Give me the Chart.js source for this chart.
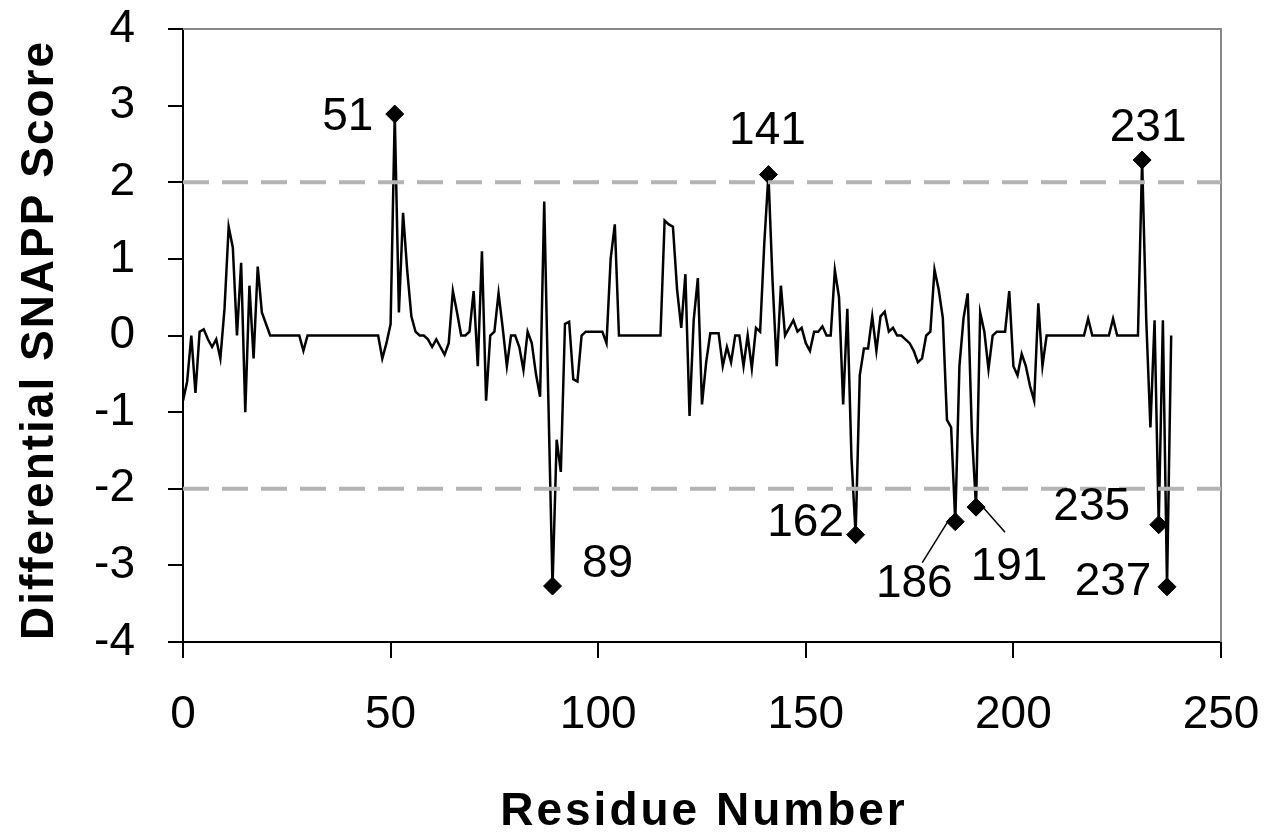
<!DOCTYPE html>
<html>
<head>
<meta charset="utf-8">
<script src="https://cdn.jsdelivr.net/npm/chart.js@4.4.1/dist/chart.umd.min.js"></script>
<style>
html, body { margin: 0; padding: 0; background: #fff; }
#wrap { width: 1284px; height: 837px; }
</style>
</head>
<body>
<div id="wrap"><canvas id="chart"></canvas></div>
<script>
// residue number of the first score
const firstResidue = 0;

// differential SNAPP score per residue (0..238)
const scores = [
    -0.85, -0.6, 0.0, -0.75, 0.05, 0.08, -0.05, -0.15, -0.05, -0.3,
    0.35, 1.42, 1.15, 0.0, 0.95, -1.0, 0.65, -0.3, 0.9, 0.3,
    0.15, 0, 0, 0, 0, 0, 0, 0, 0, -0.2,
    0, 0, 0, 0, 0, 0, 0, 0, 0, 0,
    0, 0, 0, 0, 0, 0, 0, 0, -0.3, -0.1,
    0.15, 2.89, 0.3, 1.6, 0.85, 0.25, 0.05, 0, 0, -0.05,
    -0.15, -0.05, -0.15, -0.25, -0.1, 0.58, 0.3, 0, 0, 0.05,
    0.58, -0.4, 1.1, -0.85, 0, 0.05, 0.55, 0.1, -0.4, 0,
    0, -0.15, -0.45, 0.05, -0.1, -0.5, -0.8, 1.75, -0.85, -3.27,
    -1.36, -1.78, 0.15, 0.18, -0.57, -0.6, 0, 0.05, 0.05, 0.05,
    0.05, 0.05, -0.1, 1.0, 1.45, 0, 0, 0, 0, 0,
    0, 0, 0, 0, 0, 0, 1.5, 1.45, 1.42, 0.6,
    0.1, 0.8, -1.05, 0.2, 0.75, -0.9, -0.35, 0.03, 0.03, 0.03,
    -0.4, -0.15, -0.35, 0, 0, -0.4, 0, -0.43, 0.1, 0.05,
    1.2, 2.1, 0.7, -0.4, 0.65, 0, 0.1, 0.2, 0.05, 0.1,
    -0.1, -0.2, 0.05, 0.05, 0.12, 0, 0, 0.85, 0.5, -0.9,
    0.35, -1.6, -2.6, -0.52, -0.17, -0.17, 0.25, -0.2, 0.25, 0.31,
    0.05, 0.1, 0, 0, -0.05, -0.1, -0.2, -0.35, -0.3, 0,
    0.05, 0.86, 0.6, 0.23, -1.1, -1.2, -2.43, -0.4, 0.23, 0.55,
    -1.27, -2.24, 0.3, 0.05, -0.44, 0, 0.05, 0.05, 0.05, 0.58,
    -0.4, -0.52, -0.24, -0.4, -0.66, -0.85, 0.42, -0.4, 0, 0,
    0, 0, 0, 0, 0, 0, 0, 0, 0.22, 0,
    0, 0, 0, 0, 0.22, 0, 0, 0, 0, 0,
    0, 2.29, 0.2, -1.2, 0.2, -2.47, 0.2, -3.28, 0
];

// residues flagged with a diamond and a number
const markedResidues = [51, 89, 141, 162, 186, 191, 231, 235, 237];

// significance thresholds (dashed lines)
const thresholds = [2, -2];

// axis ranges and tick steps
const xRange = [0, 250];
const xStep = 50;
const yRange = [-4, 4];
const yStep = 1;

// where each number sits relative to its diamond (px), and leader lines
const labelOffsets = {
    51: [-47, -1], 89: [55, -26], 141: [-1, -48], 162: [-50, -16],
    186: [-41, 58], 191: [33, 56], 231: [6, -36], 235: [-67, -22], 237: [-54, -9]
};
const leaderLines = {
    186: [[-5, -4], [-33, 41]],
    191: [[7, 0], [29, 25]]
};

const tickFont = { family: '"Liberation Sans", Arial, sans-serif', size: 46 };
const valueAt = r => scores[r - firstResidue];

const linePoints = scores.map((v, i) => ({ x: firstResidue + i, y: v }));
const markerPoints = markedResidues.map(r => ({ x: r, y: valueAt(r) }));

const thresholdSets = thresholds.map(t => ({
    data: [{ x: xRange[0], y: t }, { x: xRange[1], y: t }],
    borderColor: '#b4b4b4',
    borderWidth: 4,
    borderDash: [26, 13],
    pointRadius: 0,
    tension: 0
}));

// gray frame on the top and right of the plot
const frame = {
    id: 'frame',
    beforeDatasetsDraw(chart) {
        const { ctx, chartArea: a } = chart;
        ctx.save();
        ctx.strokeStyle = '#888';
        ctx.lineWidth = 2;
        ctx.beginPath();
        ctx.moveTo(a.left, a.top);
        ctx.lineTo(a.right, a.top);
        ctx.lineTo(a.right, a.bottom);
        ctx.stroke();
        ctx.restore();
    }
};

// residue numbers beside the diamonds
const pointLabels = {
    id: 'pointLabels',
    afterDatasetsDraw(chart) {
        const { ctx, scales } = chart;
        ctx.save();
        ctx.fillStyle = '#000';
        ctx.strokeStyle = '#000';
        ctx.lineWidth = 1.5;
        ctx.font = '46px "Liberation Sans", Arial, sans-serif';
        ctx.textAlign = 'center';
        ctx.textBaseline = 'alphabetic';
        markedResidues.forEach(r => {
            const px = scales.x.getPixelForValue(r);
            const py = scales.y.getPixelForValue(valueAt(r));
            const [dx, dy] = labelOffsets[r];
            ctx.fillText(String(r), px + dx, py + dy + 17);
            const l = leaderLines[r];
            if (l) {
                ctx.beginPath();
                ctx.moveTo(px + l[0][0], py + l[0][1]);
                ctx.lineTo(px + l[1][0], py + l[1][1]);
                ctx.stroke();
            }
        });
        ctx.restore();
    }
};

// bold axis titles with a little letter spacing
const axisTitles = {
    id: 'axisTitles',
    afterDraw(chart) {
        const { ctx, chartArea: a } = chart;
        ctx.save();
        ctx.fillStyle = '#000';
        ctx.font = 'bold 46px "Liberation Sans", Arial, sans-serif';
        ctx.textAlign = 'center';
        ctx.textBaseline = 'alphabetic';
        ctx.letterSpacing = '3px';
        ctx.fillText('Residue Number', (a.left + a.right) / 2 + 2, 825);
        ctx.letterSpacing = '2px';
        ctx.translate(53, 340);
        ctx.rotate(-Math.PI / 2);
        ctx.fillText('Differential SNAPP Score', 0, 0);
        ctx.restore();
    }
};

new Chart(document.getElementById('chart').getContext('2d'), {
    type: 'line',
    data: {
        datasets: [
            ...thresholdSets,
            {
                data: markerPoints,
                showLine: false,
                pointStyle: 'rectRot',
                pointRadius: 9,
                pointBackgroundColor: '#000',
                pointBorderColor: '#000'
            },
            {
                data: linePoints,
                borderColor: '#000',
                borderWidth: 2.5,
                pointRadius: 0,
                tension: 0
            }
        ]
    },
    options: {
        responsive: true,
        maintainAspectRatio: false,
        animation: false,
        layout: { padding: { top: 29, right: 63, left: 0, bottom: 0 } },
        plugins: { legend: { display: false }, tooltip: { enabled: false } },
        scales: {
            x: {
                type: 'linear',
                min: xRange[0],
                max: xRange[1],
                ticks: { stepSize: xStep, font: tickFont, color: '#000', padding: 30, maxRotation: 0 },
                grid: { drawOnChartArea: false, drawTicks: true, tickLength: 16, color: '#000', lineWidth: 2 },
                border: { display: true, color: '#000', width: 2 },
                afterFit: s => { s.height = 195; s.paddingLeft = 0; s.paddingRight = 0; }
            },
            y: {
                type: 'linear',
                min: yRange[0],
                max: yRange[1],
                ticks: { stepSize: yStep, font: tickFont, color: '#000', padding: 33 },
                grid: { drawOnChartArea: false, drawTicks: true, tickLength: 15, color: '#000', lineWidth: 2 },
                border: { display: true, color: '#000', width: 2 },
                afterFit: s => { s.width = 183; s.paddingTop = 0; s.paddingBottom = 0; }
            }
        }
    },
    plugins: [frame, pointLabels, axisTitles]
});
</script>
</body>
</html>
